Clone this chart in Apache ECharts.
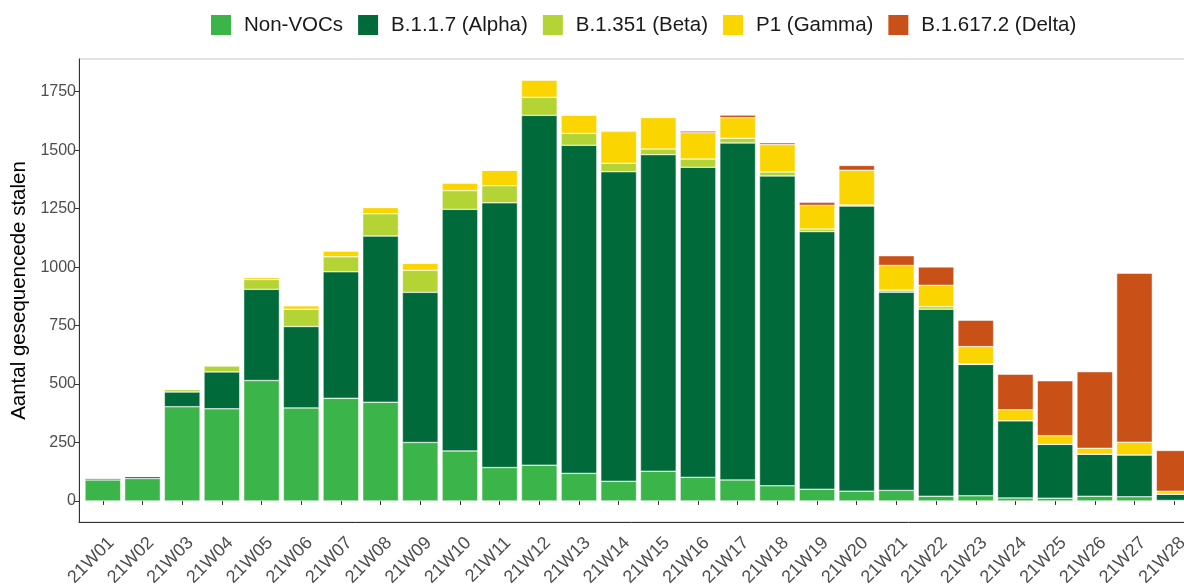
<!DOCTYPE html>
<html>
<head>
<meta charset="utf-8">
<script src="https://cdn.jsdelivr.net/npm/echarts@6.0.0/dist/echarts.min.js"></script>
<style>
  html, body { margin: 0; padding: 0; background: #fff; }
  #main { width: 1184px; height: 585px; }
</style>
</head>
<body>
<div id="main"></div>
<script>
var weeks = ['21W01', '21W02', '21W03', '21W04', '21W05', '21W06', '21W07', '21W08', '21W09', '21W10',
    '21W11', '21W12', '21W13', '21W14', '21W15', '21W16', '21W17', '21W18', '21W19', '21W20',
    '21W21', '21W22', '21W23', '21W24', '21W25', '21W26', '21W27', '21W28'];

var nonVOC = [90, 96, 403, 394, 515, 398, 439, 422, 250, 214, 143, 153, 118, 84, 127, 101, 90, 65, 50, 42, 45, 20, 22, 13, 12, 20, 18, 2];
var alpha = [8, 9, 63, 158, 390, 348, 541, 711, 642, 1033, 1132, 1496, 1403, 1324, 1354, 1326, 1441, 1325, 1102, 1219, 848, 800, 562, 330, 230, 180, 179, 27];
var beta = [0, 0, 10, 25, 42, 74, 64, 95, 94, 80, 73, 77, 51, 36, 24, 35, 20, 17, 11, 5, 9, 11, 2, 0, 0, 0, 0, 0];
var gamma = [0, 0, 3, 4, 9, 15, 25, 27, 31, 33, 66, 74, 78, 136, 135, 113, 88, 117, 101, 148, 105, 91, 74, 47, 37, 25, 54, 12];
var delta = [0, 0, 0, 0, 0, 0, 0, 0, 0, 0, 0, 0, 0, 3, 0, 7, 11, 8, 13, 21, 42, 79, 113, 152, 235, 328, 723, 175];

var seriesNames = ['Non-VOCs', 'B.1.1.7 (Alpha)', 'B.1.351 (Beta)', 'P1 (Gamma)', 'B.1.617.2 (Delta)'];
var seriesColors = ['#3bb54a', '#006a3a', '#b4d334', '#fad500', '#c95118'];
var yTicks = [0, 250, 500, 750, 1000, 1250, 1500, 1750];

var font = '"Liberation Sans", Arial, sans-serif';
var myChart = echarts.init(document.getElementById('main'));

function bar(i, values) {
    return {
        name: seriesNames[i],
        type: 'bar',
        stack: 'total',
        xAxisIndex: 1,
        yAxisIndex: 1,
        barWidth: '90%',
        data: values,
        itemStyle: { color: seriesColors[i], borderColor: '#ffffff', borderWidth: 0.5 }
    };
}

var option = {
    animation: false,
    backgroundColor: '#ffffff',
    textStyle: { fontFamily: font },
    color: seriesColors,
    legend: {
        top: 8,
        left: 204,
        icon: 'rect',
        itemWidth: 22,
        itemHeight: 22,
        itemGap: 13,
        data: seriesNames,
        textStyle: { fontSize: 20.5, color: '#1a1a1a', fontFamily: font, padding: [0, 0, 0, 7] }
    },
    grid: [
        // panel (border + axis lines), runs past the right edge like the reference
        { left: 79, top: 59, width: 1119, height: 463, outerBoundsMode: 'none',
          show: true, borderColor: '#c4c4c4', borderWidth: 1, backgroundColor: 'transparent' },
        // bars (ggplot keeps 0.6 band of padding on each side)
        { left: 83, top: 59, width: 1111, height: 463, outerBoundsMode: 'none' }
    ],
    xAxis: [
        { gridIndex: 0, type: 'value', min: 0, max: 1, axisLine: { show: true, lineStyle: { color: '#333333', width: 1 } },
          axisTick: { show: false }, axisLabel: { show: false }, splitLine: { show: false } },
        { gridIndex: 1, type: 'category', data: weeks,
          axisLine: { show: false },
          axisTick: { show: true, alignWithLabel: true, length: 4, lineStyle: { color: '#333333' } },
          axisLabel: { rotate: 45, fontSize: 18, color: '#4d4d4d', margin: 4, interval: 0,
                       align: 'right', verticalAlign: 'top', padding: [7, 4, 0, 0], fontFamily: font } }
    ],
    yAxis: [
        { gridIndex: 0, type: 'value', min: 0, max: 1, axisLine: { show: true, lineStyle: { color: '#333333', width: 1 } },
          axisTick: { show: false }, axisLabel: { show: false }, splitLine: { show: false } },
        { gridIndex: 1, type: 'value', min: -90, max: 1890, offset: 4,
          axisLine: { show: false },
          axisTick: { show: true, length: 4, customValues: yTicks, lineStyle: { color: '#333333' } },
          axisLabel: { customValues: yTicks, fontSize: 16, color: '#4d4d4d', margin: 3, fontFamily: font,
                       formatter: function (v) { return String(v); } },
          splitLine: { show: false },
          name: 'Aantal gesequencede stalen',
          nameLocation: 'middle',
          nameGap: 43,
          nameTextStyle: { fontSize: 20.5, color: '#000000', fontFamily: font } }
    ],
    series: [
        bar(0, nonVOC),
        bar(1, alpha),
        bar(2, beta),
        bar(3, gamma),
        bar(4, delta)
    ]
};

myChart.setOption(option);
</script>
</body>
</html>
